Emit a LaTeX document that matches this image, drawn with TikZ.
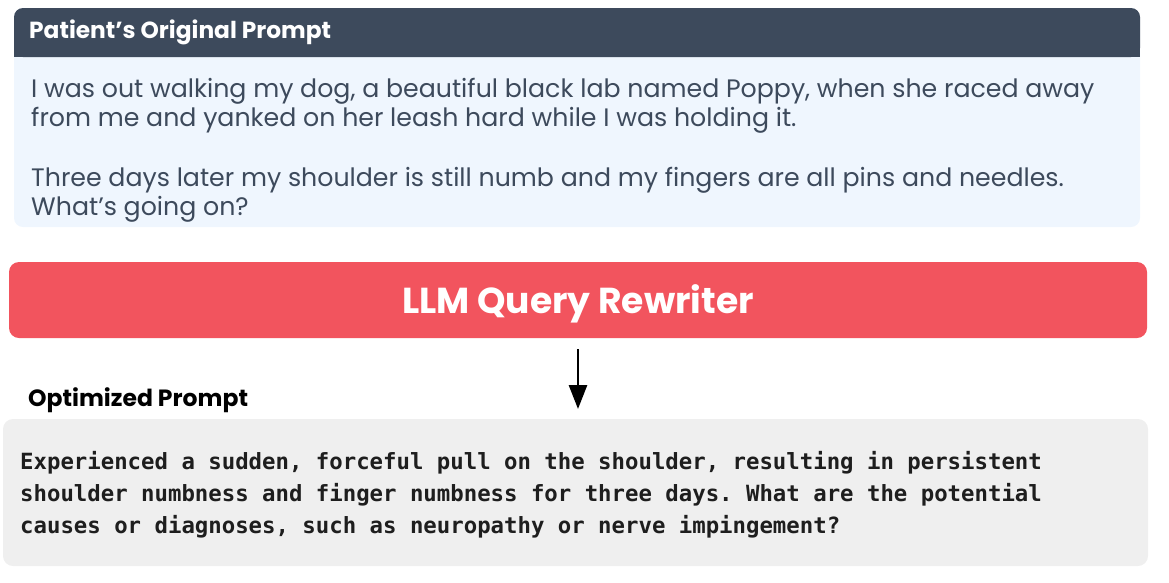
\documentclass[tikz,border=0pt]{standalone}
\usepackage{fontspec}
\setmainfont{Poppins}
\setmonofont{DejaVu Sans Mono}
\usetikzlibrary{arrows.meta}
\definecolor{hdrcol}{HTML}{3D4A5C}
\definecolor{bodybg}{HTML}{EFF6FE}
\definecolor{bodytxt}{HTML}{3D4A5C}
\definecolor{redcol}{HTML}{F2545E}
\definecolor{graybg}{HTML}{EFEFEF}
\definecolor{monotxt}{HTML}{1E1E1E}
\tikzset{
  panel/.style={inner sep=0pt, outer sep=0pt, draw=none, anchor=north west},
  hdrtext/.style={anchor=base west, inner sep=0pt, text=white, font=\fontsize{23.3}{28}\selectfont\bfseries},
  bodytext/.style={anchor=base west, inner sep=0pt, text=bodytxt, font=\fontsize{25.25}{30}\selectfont},
  titletext/.style={anchor=base, inner sep=0pt, text=white, font=\fontsize{36.1}{42}\selectfont\bfseries},
  labeltext/.style={anchor=base west, inner sep=0pt, text=black, font=\fontsize{23.5}{28}\selectfont\bfseries},
  monotext/.style={anchor=base west, inner sep=0pt, text=monotxt, font=\fontsize{22.33}{26}\selectfont\ttfamily\bfseries},
  flowarrow/.style={-{Triangle[width=18pt,length=24pt]}, line width=2.8pt, black}
}
\begin{document}
\begin{tikzpicture}[x=1pt,y=-1pt]
\useasboundingbox (0,0) rectangle (1169,582);
% original prompt panel
\node[panel, fill=bodybg, rounded corners=9pt, minimum width=1126pt, minimum height=219pt] (orig) at (14,8) {};
\node[panel, fill=hdrcol, rounded corners=9pt, minimum width=1126pt, minimum height=49pt] (hdr) at (14,8) {};
\fill[hdrcol] (hdr.west) rectangle (hdr.south east);
\node[hdrtext] (hdrlabel) at (29,38.5) {Patient’s Original Prompt};
\node[bodytext] (l1) at (31,97) {I was out walking my dog, a beautiful black lab named Poppy, when she raced away};
\node[bodytext] (l2) at (31,126.5) {from me and yanked on her leash hard while I was holding it.};
\node[bodytext] (l3) at (31,186) {Three days later my shoulder is still numb and my fingers are all pins and needles.};
\node[bodytext] (l4) at (31,215.5) {What’s going on?};
% rewriter
\node[panel, fill=redcol, rounded corners=10pt, minimum width=1138pt, minimum height=76pt] (rw) at (9,262) {};
\node[titletext] (rwlabel) at (578,313) {LLM Query Rewriter};
% optimized prompt
\node[labeltext] (optlabel) at (28,406.5) {Optimized Prompt};
\node[panel, fill=graybg, rounded corners=10pt, minimum width=1145pt, minimum height=147pt] (opt) at (3,419) {};
\node[monotext] (m1) at (20,469) {Experienced a sudden, forceful pull on the shoulder, resulting in persistent};
\node[monotext] (m2) at (20,501) {shoulder numbness and finger numbness for three days. What are the potential};
\node[monotext] (m3) at (20,533) {causes or diagnoses, such as neuropathy or nerve impingement?};
% arrow
\draw[flowarrow, shorten <=11pt, shorten >=10pt] (rw.south) -- (rw.south |- opt.north);
\end{tikzpicture}
\end{document}
